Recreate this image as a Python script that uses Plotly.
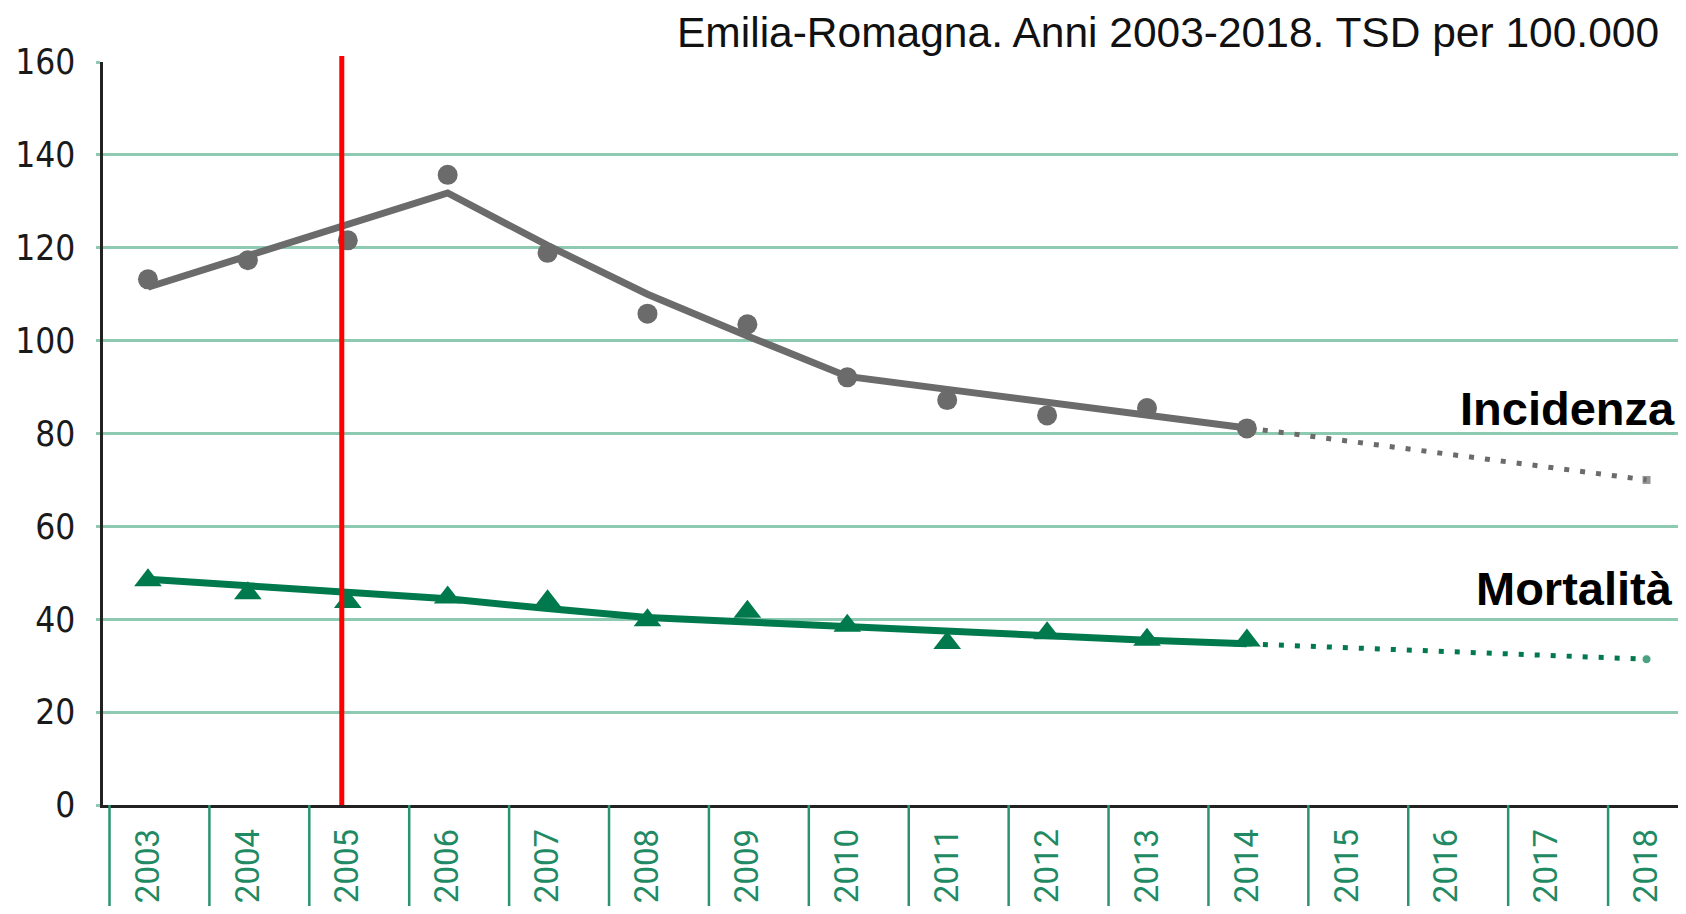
import plotly.graph_objects as go

# Dati (TSD per 100.000)
years = list(range(2003, 2015))
incidenza = [113.2, 117.3, 121.6, 135.7, 118.9, 105.8, 103.5, 92.1, 87.2, 83.9, 85.5, 81.1]
mortalita = [48.4, 45.6, 43.7, 44.7, 43.9, 39.8, 41.6, 38.6, 34.9, 37.0, 35.6, 35.4]

# trend (joinpoint) e proiezione
trend_inc = [111.5, 118.3, 125.0, 131.8, 120.5, 110.0, 101.0, 92.3, 89.5, 86.8, 84.0, 81.2]
trend_mort = [48.6, 47.2, 45.8, 44.4, 42.3, 40.4, 39.4, 38.4, 37.3, 36.3, 35.5, 34.7]
proj_years = [2014, 2015, 2016, 2017, 2018]
proj_inc = [81.2, 78.4, 75.6, 72.8, 70.0]
proj_mort = [34.7, 33.9, 33.1, 32.3, 31.4]

all_years = list(range(2003, 2019))
screening_year = 2005
title = "Emilia-Romagna. Anni 2003-2018. TSD per 100.000"

GREY = "#6b6b6b"
GREEN = "#007a4d"
GRID = "#8ec9b2"

fig = go.Figure()

fig.add_trace(go.Scatter(x=years, y=trend_inc, mode="lines",
                         line=dict(color=GREY, width=7)))
fig.add_trace(go.Scatter(x=proj_years, y=proj_inc, mode="lines+markers",
                         line=dict(color=GREY, width=5, dash="5px,11px"),
                         marker=dict(symbol="square", size=[0, 0, 0, 0, 9], color=GREY)))
fig.add_trace(go.Scatter(x=years, y=incidenza, mode="markers",
                         marker=dict(symbol="circle", size=20, color=GREY)))

fig.add_trace(go.Scatter(x=years, y=trend_mort, mode="lines",
                         line=dict(color=GREEN, width=7)))
fig.add_trace(go.Scatter(x=proj_years, y=proj_mort, mode="lines+markers",
                         line=dict(color=GREEN, width=5, dash="5px,11px"),
                         marker=dict(symbol="circle", size=[0, 0, 0, 0, 9], color=GREEN)))
fig.add_trace(go.Scatter(x=years, y=mortalita, mode="markers",
                         marker=dict(symbol="triangle-up", size=24, color=GREEN)))

# divisori sotto l'asse x
for yr in all_years:
    fig.add_shape(type="line", xref="x", yref="paper",
                  x0=yr - 0.385, x1=yr - 0.385, y0=0, y1=-0.15,
                  line=dict(color="#2a9470", width=2.5))

# linea rossa
fig.add_shape(type="line", xref="x", yref="paper",
              x0=screening_year - 0.06, x1=screening_year - 0.06, y0=0, y1=1.008,
              line=dict(color="#ff0000", width=5))

fig.add_annotation(text=title, xref="paper", yref="paper", x=0.989, y=1.0,
                   xanchor="right", yanchor="bottom", yshift=4, showarrow=False,
                   font=dict(family="Liberation Sans, Arial", size=42.5, color="#111"))
fig.add_annotation(text="<b>Incidenza</b>", xref="paper", yref="y", x=1.0, y=85.3,
                   xanchor="right", yanchor="middle", xshift=-1, showarrow=False,
                   font=dict(family="Liberation Sans, Arial", size=47, color="#000"))
fig.add_annotation(text="<b>Mortalità</b>", xref="paper", yref="y", x=1.0, y=46.6,
                   xanchor="right", yanchor="middle", xshift=-3, showarrow=False,
                   font=dict(family="Liberation Sans, Arial", size=47, color="#000"))

fig.update_xaxes(range=[2002.55, 2018.315], tickvals=all_years,
                 ticktext=[str(y) for y in all_years], tickangle=-90,
                 ticks="", ticklabelstandoff=8, automargin=False,
                 tickfont=dict(family="Roboto", size=33, color="#1f8a63"),
                 showgrid=False, zeroline=False,
                 showline=True, linecolor="#222", linewidth=2.5)
fig.update_yaxes(range=[0, 160], dtick=20, showgrid=True, gridcolor=GRID, gridwidth=2.5,
                 zeroline=False, showline=True, linecolor="#222", linewidth=2.5,
                 ticks="outside", ticklen=4, tickcolor=GRID, tickwidth=2.5,
                 ticklabelstandoff=14, automargin=False,
                 tickfont=dict(family="Liberation Sans Narrow, DejaVu Sans Condensed, Roboto",
                               size=35, color="#1a1a1a"))

# la pagina ha 8px di margine: figura 1670x898 per stare nella finestra
fig.update_layout(width=1670, height=898, showlegend=False,
                  plot_bgcolor="white", paper_bgcolor="white",
                  margin=dict(l=95, r=0, t=54, b=101))

fig.write_html("out.html")
